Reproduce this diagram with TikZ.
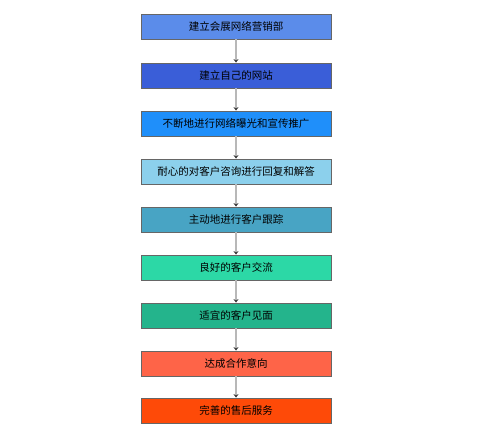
\documentclass[tikz,border=0pt]{standalone}
\usepackage{fontspec}
\setmainfont{Noto Sans CJK SC}
\usepackage{tikz}
\usepackage{xcolor}
\usetikzlibrary{arrows.meta, positioning}

\definecolor{boxA}{HTML}{5B8CEA}
\definecolor{boxB}{HTML}{3A5ED8}
\definecolor{boxC}{HTML}{1F8FFA}
\definecolor{boxD}{HTML}{8CD0EC}
\definecolor{boxE}{HTML}{48A4C4}
\definecolor{boxF}{HTML}{2CD8A6}
\definecolor{boxG}{HTML}{24B48C}
\definecolor{boxH}{HTML}{FE6448}
\definecolor{boxI}{HTML}{FE4A08}

\begin{document}
\begin{tikzpicture}[x=1pt, y=1pt,
        stage/.style={rectangle, draw=black!60, line width=0.8pt, minimum width=190pt, minimum height=25pt, inner sep=0pt, font=\fontsize{10.5}{12}\selectfont},
        flow/.style={draw=black!28, line width=1.3pt, -{Stealth[length=3.5pt, width=5pt, color=black!75]}}]
        \useasboundingbox (0, 0) rectangle (499, -436);

        \node[stage, fill=boxA] (s1) at (236, -26.5) {建立会展网络营销部};
        \node[stage, fill=boxB] (s2) at (236, -75.5) {建立自己的网站};
        \node[stage, fill=boxC] (s3) at (236, -123.5) {不断地进行网络曝光和宣传推广};
        \node[stage, fill=boxD] (s4) at (236, -171.5) {耐心的对客户咨询进行回复和解答};
        \node[stage, fill=boxE] (s5) at (236, -219.5) {主动地进行客户跟踪};
        \node[stage, fill=boxF] (s6) at (236, -267.5) {良好的客户交流};
        \node[stage, fill=boxG] (s7) at (236, -315.5) {适宜的客户见面};
        \node[stage, fill=boxH] (s8) at (236, -363.5) {达成合作意向};
        \node[stage, fill=boxI] (s9) at (236, -410.5) {完善的售后服务};

        \draw[flow] (s1) to (s2);
        \draw[flow] (s2) to (s3);
        \draw[flow] (s3) to (s4);
        \draw[flow] (s4) to (s5);
        \draw[flow] (s5) to (s6);
        \draw[flow] (s6) to (s7);
        \draw[flow] (s7) to (s8);
        \draw[flow] (s8) to (s9);
    \end{tikzpicture}
\end{document}
